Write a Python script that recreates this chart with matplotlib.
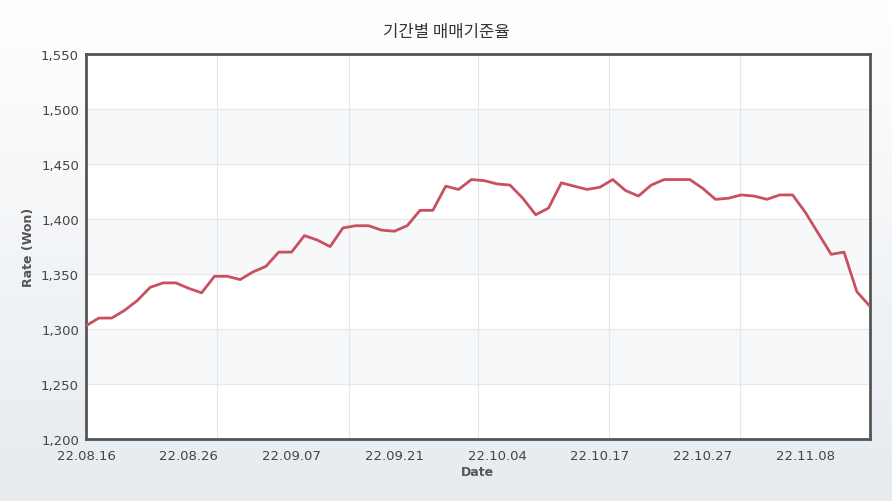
import numpy as np
import matplotlib.pyplot as plt

plt.rcParams['font.family'] = ['DejaVu Sans', 'Noto Sans CJK KR']

RATES = [1303, 1310, 1310, 1317, 1326, 1338, 1342, 1342, 1337, 1333,
         1348, 1348, 1345, 1352, 1357, 1370, 1370, 1385, 1381, 1375,
         1392, 1394, 1394, 1390, 1389, 1394, 1408, 1408, 1430, 1427,
         1436, 1435, 1432, 1431, 1419, 1404, 1410, 1433, 1430, 1427,
         1429, 1436, 1426, 1421, 1431, 1436, 1436, 1436, 1428, 1418,
         1419, 1422, 1421, 1418, 1422, 1422, 1406, 1387, 1368, 1370,
         1334, 1321]
TICK_IDX = [0, 8, 16, 24, 32, 40, 48, 56]
TICK_LABELS = ["22.08.16", "22.08.26", "22.09.07", "22.09.21",
               "22.10.04", "22.10.17", "22.10.27", "22.11.08"]
VGRID = [10.2, 20.45, 30.55, 40.7, 50.9]

fig = plt.figure(figsize=(8.92, 5.02), dpi=100)
bg = fig.add_axes([0, 0, 1, 1], zorder=-10)
grad = np.linspace(1, 0, 256).reshape(-1, 1)
bg.imshow(grad, aspect="auto", cmap=plt.matplotlib.colors.LinearSegmentedColormap.from_list(
    "g", ["#e6ebf0", "#ffffff"]), extent=[0, 1, 0, 1])
bg.axis("off")

ax = fig.add_axes([0.0964, 0.1235, 0.8786, 0.7665])
ax.set_facecolor("white")
x = np.arange(len(RATES))
for lo in (1250, 1350, 1450):
    ax.axhspan(lo, lo + 50, color="#f6f8fa", zorder=0)
for y in range(1200, 1551, 50):
    ax.axhline(y, color="#e6e9ec", lw=0.8, zorder=1)
for v in VGRID:
    ax.axvline(v, color="#e3e7ea", lw=0.8, zorder=1)
ax.plot(x, RATES, color="#c9505f", lw=2, zorder=3)

ax.set_xlim(0, len(RATES) - 1)
ax.set_ylim(1200, 1550)
ax.set_yticks(range(1200, 1551, 50))
ax.set_yticklabels([f"{v:,}" for v in range(1200, 1551, 50)])
ax.set_xticks(TICK_IDX)
ax.set_xticklabels(TICK_LABELS)
ax.tick_params(length=0, labelsize=9.5, colors="#444444")
ax.tick_params(axis="x", pad=7)
ax.tick_params(axis="y", pad=5)
for s in ax.spines.values():
    s.set_color("#555555")
    s.set_linewidth(2)
ax.set_ylabel("Rate (Won)", fontsize=9, fontweight="bold", color="#555555")
ax.set_xlabel("Date", fontsize=9, fontweight="bold", color="#555555", labelpad=2)
fig.text(0.5, 0.935, "기간별 매매기준율", ha="center", va="center",
         fontsize=12, color="#333333", family=['Noto Sans CJK KR', 'DejaVu Sans'])

fig.savefig("out.png", dpi=100)
